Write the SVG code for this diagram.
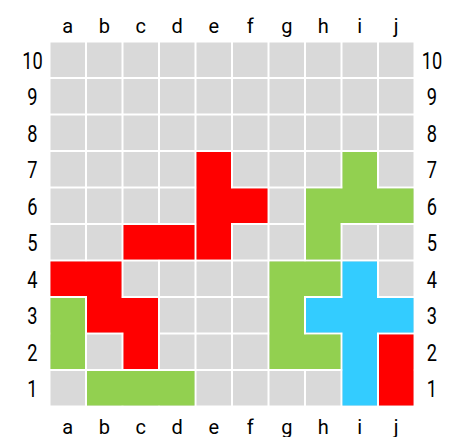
<svg xmlns="http://www.w3.org/2000/svg" xmlns:xlink="http://www.w3.org/1999/xlink" width="452" height="437" viewBox="0 0 452 437">
<style>
.c{fill:#d9d9d9}
.red{fill:#ff0000}
.green{fill:#92d050}
.blue{fill:#33ccff}
.col{font-family:Roboto,"Liberation Sans",sans-serif;font-size:20px;fill:#000;text-anchor:middle}
.row{font-family:Roboto,"Liberation Sans",sans-serif;font-size:24px;fill:#000;text-anchor:middle}
</style>
<defs>
<rect id="cell" width="34.5" height="34.5" class="c"/>
<g id="gridrow">
<use xlink:href="#cell" x="50.5"/><use xlink:href="#cell" x="87"/><use xlink:href="#cell" x="123.5"/><use xlink:href="#cell" x="160"/><use xlink:href="#cell" x="196.5"/><use xlink:href="#cell" x="233"/><use xlink:href="#cell" x="269.5"/><use xlink:href="#cell" x="306"/><use xlink:href="#cell" x="342.5"/><use xlink:href="#cell" x="379"/>
</g>
</defs>
<g id="grid">
<use xlink:href="#gridrow" y="42.5"/>
<use xlink:href="#gridrow" y="79"/>
<use xlink:href="#gridrow" y="115.5"/>
<use xlink:href="#gridrow" y="152"/>
<use xlink:href="#gridrow" y="188.5"/>
<use xlink:href="#gridrow" y="225"/>
<use xlink:href="#gridrow" y="261.5"/>
<use xlink:href="#gridrow" y="298"/>
<use xlink:href="#gridrow" y="334.5"/>
<use xlink:href="#gridrow" y="371"/>
</g>
<g id="connectors"></g>
<g id="piece-red-t"><polygon class="red" points="196.5,152 231,152 231,188.5 267.5,188.5 267.5,223 231,223 231,259.5 196.5,259.5"/></g>
<g id="piece-red-c5d5"><rect class="red" x="123.5" y="225" width="71" height="34.5"/></g>
<g id="piece-green-top"><polygon class="green" points="342.5,152 377,152 377,188.5 413.5,188.5 413.5,223 340.5,223 340.5,259.5 306,259.5 306,188.5 342.5,188.5"/></g>
<g id="piece-green-c"><polygon class="green" points="269.5,261.5 340.5,261.5 340.5,296 304,296 304,334.5 340.5,334.5 340.5,369 269.5,369"/></g>
<g id="piece-blue"><polygon class="blue" points="342.5,261.5 377,261.5 377,298 413.5,298 413.5,332.5 377,332.5 377,405.5 342.5,405.5 342.5,332.5 306,332.5 306,298 342.5,298"/></g>
<g id="piece-red-j"><rect class="red" x="379" y="334.5" width="34.5" height="71"/></g>
<g id="piece-red-z"><polygon class="red" points="50.5,261.5 121.5,261.5 121.5,298 158,298 158,369 123.5,369 123.5,332.5 87,332.5 87,296 50.5,296"/></g>
<g id="piece-green-a"><rect class="green" x="50.5" y="298" width="34.5" height="71"/></g>
<g id="piece-green-bottom"><rect class="green" x="87" y="371" width="107.5" height="34.5"/></g>
<g id="labels-top" class="col">
<text x="67.75" y="33.3">a</text><text x="104.25" y="33.3">b</text><text x="140.75" y="33.3">c</text><text x="177.25" y="33.3">d</text><text x="213.75" y="33.3">e</text><text x="250.25" y="33.3">f</text><text x="286.75" y="33.3">g</text><text x="323.25" y="33.3">h</text><text x="359.75" y="33.3">i</text><text x="396.25" y="33.3">j</text>
</g>
<g id="labels-bottom" class="col">
<text x="67.75" y="433.5">a</text><text x="104.25" y="433.5">b</text><text x="140.75" y="433.5">c</text><text x="177.25" y="433.5">d</text><text x="213.75" y="433.5">e</text><text x="250.25" y="433.5">f</text><text x="286.75" y="433.5">g</text><text x="323.25" y="433.5">h</text><text x="359.75" y="433.5">i</text><text x="396.25" y="433.5">j</text>
</g>
<g id="labels-left" class="row" transform="scale(0.76 1)">
<text x="42.76" y="69">10</text><text x="42.76" y="105.5">9</text><text x="42.76" y="142">8</text><text x="42.76" y="178.5">7</text><text x="42.76" y="215">6</text><text x="42.76" y="251.5">5</text><text x="42.76" y="288">4</text><text x="42.76" y="324.5">3</text><text x="42.76" y="361">2</text><text x="42.76" y="397.5">1</text>
</g>
<g id="labels-right" class="row" transform="scale(0.76 1)">
<text x="568.42" y="69">10</text><text x="568.42" y="105.5">9</text><text x="568.42" y="142">8</text><text x="568.42" y="178.5">7</text><text x="568.42" y="215">6</text><text x="568.42" y="251.5">5</text><text x="568.42" y="288">4</text><text x="568.42" y="324.5">3</text><text x="568.42" y="361">2</text><text x="568.42" y="397.5">1</text>
</g>
</svg>
